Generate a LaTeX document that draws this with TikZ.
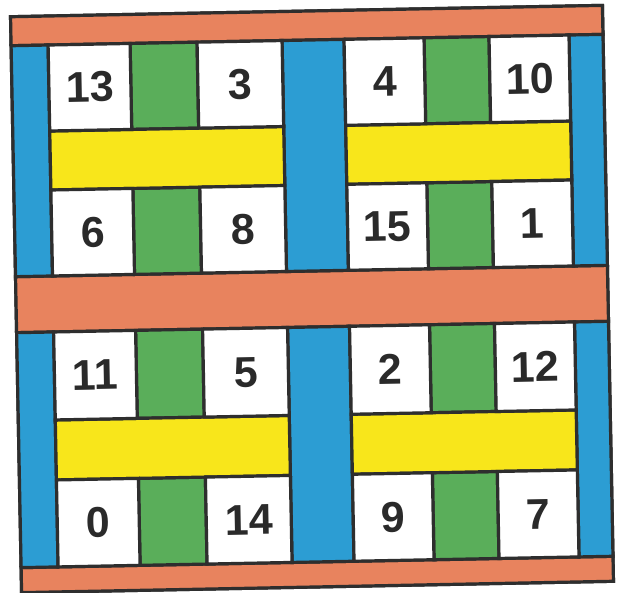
\documentclass[tikz,border=0pt]{standalone}
\usepackage{fontspec}
\setmainfont{Liberation Sans}
\definecolor{bandorange}{HTML}{E8835E}
\definecolor{stripblue}{HTML}{2C9DD3}
\definecolor{stripgreen}{HTML}{5AAE5A}
\definecolor{baryellow}{HTML}{F8E61B}
\definecolor{inkline}{HTML}{2E2E2E}
\definecolor{digitink}{HTML}{2A2A2A}
\newcommand{\mybar}[5]{\path[#1] (#2,#3) rectangle (#4,#5);}
\newcommand{\numcell}[5]{\node[numbox, minimum width={#3-#1}, minimum height={#4-#2}] (c#5) at ({(#1+#3)/2},{(#2+#4)/2}) {#5};}
\begin{document}
\begin{tikzpicture}[x=1pt,y=-1pt,
  edge/.style={draw=inkline, line width=3.2pt, line join=miter},
  orangeband/.style={edge, fill=bandorange},
  bluestrip/.style={edge, fill=stripblue},
  greenstrip/.style={edge, fill=stripgreen},
  yellowbar/.style={edge, fill=baryellow},
  numbox/.style={edge, fill=white, inner sep=0pt, outer sep=0pt,
    text=digitink, font=\fontsize{43}{43}\selectfont\bfseries}]
\useasboundingbox (0,0) rectangle (621,592);
\begin{scope}[shift={(16,11)}, rotate around={1.1:(296,288)}, transform shape]
  % outer frame
  \mybar{edge, fill=white}{0}{0}{592}{576}
  % orange bands
  \mybar{orangeband}{0}{0}{592}{29}
  \mybar{orangeband}{0}{260}{592}{316}
  \mybar{orangeband}{0}{551}{592}{576}
  % blue strips, top half
  \mybar{bluestrip}{0}{29}{37}{260}
  \mybar{bluestrip}{271}{29}{333}{260}
  \mybar{bluestrip}{558}{29}{592}{260}
  % blue strips, bottom half
  \mybar{bluestrip}{0}{316}{37}{551}
  \mybar{bluestrip}{271}{316}{333}{551}
  \mybar{bluestrip}{558}{316}{592}{551}
  % green strips
  \mybar{greenstrip}{119}{29}{186}{115}
  \mybar{greenstrip}{119}{174}{186}{260}
  \mybar{greenstrip}{413}{29}{478}{115}
  \mybar{greenstrip}{413}{174}{478}{260}
  \mybar{greenstrip}{119}{316}{186}{404}
  \mybar{greenstrip}{119}{464}{186}{551}
  \mybar{greenstrip}{413}{316}{478}{404}
  \mybar{greenstrip}{413}{464}{478}{551}
  % yellow bars
  \mybar{yellowbar}{37}{115}{271}{174}
  \mybar{yellowbar}{333}{115}{558}{174}
  \mybar{yellowbar}{37}{404}{271}{464}
  \mybar{yellowbar}{333}{404}{558}{464}
  % numbered cells: top-left quadrant
  \numcell{37}{29}{119}{115}{13}
  \numcell{186}{29}{271}{115}{3}
  \numcell{37}{174}{119}{260}{6}
  \numcell{186}{174}{271}{260}{8}
  % top-right quadrant
  \numcell{333}{29}{413}{115}{4}
  \numcell{478}{29}{558}{115}{10}
  \numcell{333}{174}{413}{260}{15}
  \numcell{478}{174}{558}{260}{1}
  % bottom-left quadrant
  \numcell{37}{316}{119}{404}{11}
  \numcell{186}{316}{271}{404}{5}
  \numcell{37}{464}{119}{551}{0}
  \numcell{186}{464}{271}{551}{14}
  % bottom-right quadrant
  \numcell{333}{316}{413}{404}{2}
  \numcell{478}{316}{558}{404}{12}
  \numcell{333}{464}{413}{551}{9}
  \numcell{478}{464}{558}{551}{7}
\end{scope}
\end{tikzpicture}
\end{document}
